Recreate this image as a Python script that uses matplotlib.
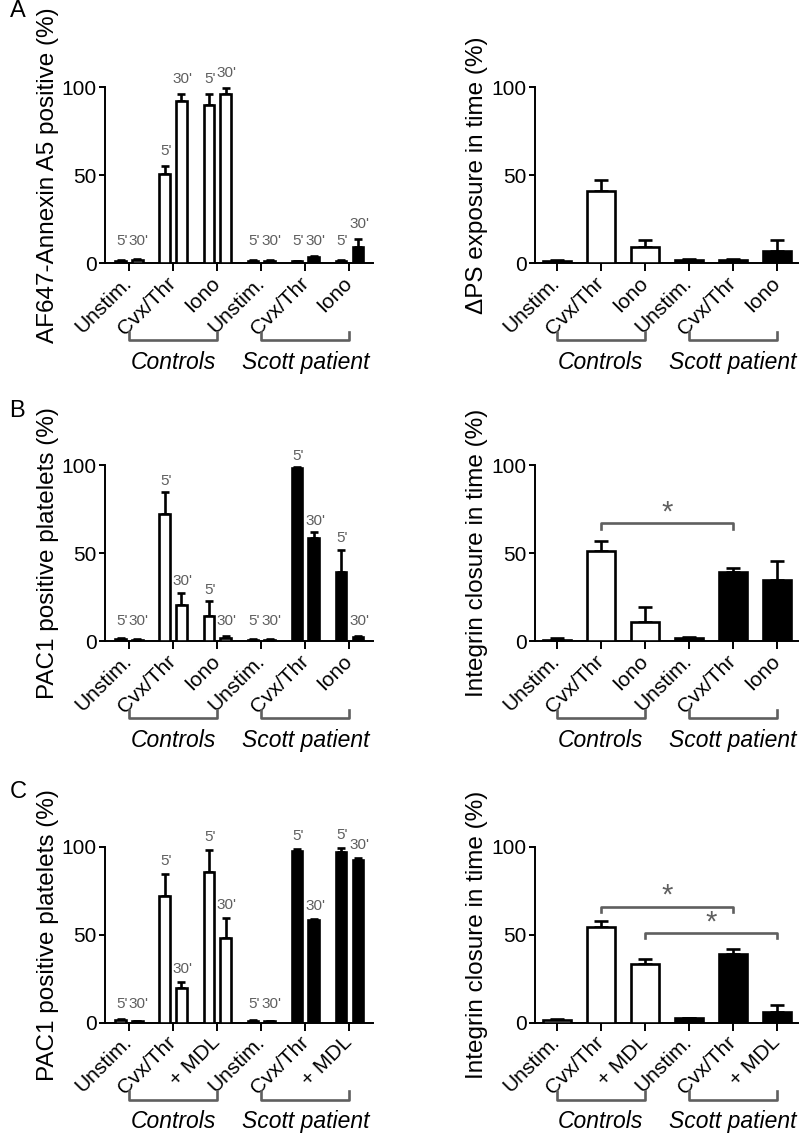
import numpy as np
import matplotlib
matplotlib.use('Agg')
import matplotlib.pyplot as plt
from matplotlib.transforms import blended_transform_factory

plt.rcParams['font.family'] = ['Liberation Sans', 'DejaVu Sans']

# categories
groups_ab = ['Unstim.', 'Cvx/Thr', 'Iono', 'Unstim.', 'Cvx/Thr', 'Iono']
groups_c = ['Unstim.', 'Cvx/Thr', '+ MDL', 'Unstim.', 'Cvx/Thr', '+ MDL']
cohorts = ['Controls', 'Scott patient']
fills = ['white', 'white', 'white', 'black', 'black', 'black']

# A: annexin A5 binding (5' and 30'), mean and upper SEM
a_left_5 = [1.5, 50.5, 90, 1.5, 1.2, 1.5]
a_left_5_err = [0.5, 4.7, 6.5, 0.5, 0.3, 0.5]
a_left_30 = [2, 92.5, 96.5, 1.5, 3.5, 9.4]
a_left_30_err = [0.5, 3.7, 3, 0.5, 0.8, 4.2]
a_right = [1.5, 41, 9.5, 2, 2, 7.2]
a_right_err = [0.5, 6.6, 3.8, 0.4, 0.4, 6.1]

# B: PAC1 binding
b_left_5 = [1.5, 72.4, 14.3, 1, 98.5, 39.4]
b_left_5_err = [0.5, 12.4, 8.6, 0.3, 0.5, 12.6]
b_left_30 = [1, 20.6, 2, 1, 58.5, 2.5]
b_left_30_err = [0.3, 7, 1, 0.3, 3.5, 0.5]
b_right = [1, 51.5, 10.8, 1.9, 39.2, 35.1]
b_right_err = [1, 5.7, 8.8, 0.7, 2.7, 10.7]
b_sig = [(1, 4, 67)]

# C: PAC1 binding with MDL
c_left_5 = [1.5, 71.8, 85.9, 1, 97.7, 96.8]
c_left_5_err = [0.5, 12.8, 12.4, 0.3, 0.8, 2.4]
c_left_30 = [0.8, 19.7, 47.9, 0.8, 58.3, 92.5]
c_left_30_err = [0.3, 3.2, 11.3, 0.3, 0.7, 1.1]
c_right = [1.5, 54.1, 33.5, 2.4, 39.1, 6]
c_right_err = [0.5, 3.8, 2.4, 0.5, 2.8, 4.3]
c_sig = [(1, 4, 66), (2, 5, 51)]

GREY = '#5f5f5f'
LW = 1.9


def style_axes(ax, labels, ylabel, xlim, label_x):
    ax.set_ylim(0, 100)
    ax.set_xlim(*xlim)
    ax.spines['top'].set_visible(False)
    ax.spines['right'].set_visible(False)
    for s in ['left', 'bottom']:
        ax.spines[s].set_linewidth(1.4)
    ax.set_yticks([0, 50, 100])
    ax.set_xticks(range(6))
    ax.set_xticklabels(labels, rotation=45, ha='right', va='center',
                       rotation_mode='anchor', fontsize=15)
    ax.tick_params(axis='x', length=6, width=1.4, pad=6)
    ax.tick_params(axis='y', length=4, width=1.4, labelsize=15, pad=2)
    ax.set_ylabel(ylabel, fontsize=17.5)
    ax.yaxis.set_label_coords(label_x, 0.5)
    tr = blended_transform_factory(ax.transData, ax.transAxes)
    for (a, b), name in zip([(0, 2), (3, 5)], cohorts):
        ax.plot([a, a, b, b], [-0.39, -0.4375, -0.4375, -0.39], transform=tr,
                clip_on=False, color=GREY, lw=LW)
        ax.text((a + b) / 2, -0.5625, name, transform=tr, ha='center',
                va='center', style='italic', fontsize=16.5)


def pair_bars(ax, v5, e5, v30, e30, gap, floor):
    x = np.arange(6)
    for off, v, e, lab in [(-0.19, v5, e5, "5'"), (0.19, v30, e30, "30'")]:
        ax.errorbar(x + off, v, yerr=[np.zeros(6), e], fmt='none', ecolor='black',
                    elinewidth=LW, capsize=3, capthick=LW, zorder=2)
        ax.bar(x + off, v, width=0.24, color=fills, edgecolor='black', lw=LW, zorder=3)
        for xi, vi, ei in zip(x + off, v, e):
            ax.text(xi + 0.03, max(vi + ei + gap, floor), lab, ha='center', va='center',
                    color=GREY, fontsize=11)


def single_bars(ax, v, e):
    x = np.arange(6)
    ax.errorbar(x, v, yerr=[np.zeros(6), e], fmt='none', ecolor='black',
                elinewidth=LW, capsize=5, capthick=LW, zorder=2)
    ax.bar(x, v, width=0.64, color=fills, edgecolor='black', lw=LW, zorder=3)


def sig(ax, brackets):
    for a, b, y in brackets:
        ax.plot([a, a, b, b], [y - 3, y, y, y - 3], color=GREY, lw=LW, clip_on=False)
        ax.text((a + b) / 2, y + 6, '*', ha='center', va='center', fontsize=21, color=GREY)


fig = plt.figure(figsize=(8, 11.35), dpi=100)

rows = [0.768, 0.435, 0.099]
h = 0.155
left_x = (0.131, 0.335)
right_x = (0.669, 0.329)

# A
ax = fig.add_axes([left_x[0], rows[0], left_x[1], h])
pair_bars(ax, a_left_5, a_left_5_err, a_left_30, a_left_30_err, 8.5, 12.5)
style_axes(ax, groups_ab, 'AF647-Annexin A5 positive (%)', (-0.55, 5.53), -0.17)

ax = fig.add_axes([right_x[0], rows[0], right_x[1], h])
single_bars(ax, a_right, a_right_err)
style_axes(ax, groups_ab, '\u0394PS exposure in time (%)', (-0.49, 5.48), -0.18)

# B
ax = fig.add_axes([left_x[0], rows[1], left_x[1], h])
pair_bars(ax, b_left_5, b_left_5_err, b_left_30, b_left_30_err, 6.5, 11.5)
style_axes(ax, groups_ab, 'PAC1 positive platelets (%)', (-0.55, 5.53), -0.17)

ax = fig.add_axes([right_x[0], rows[1], right_x[1], h])
single_bars(ax, b_right, b_right_err)
sig(ax, b_sig)
style_axes(ax, groups_ab, 'Integrin closure in time (%)', (-0.49, 5.48), -0.18)

# C
ax = fig.add_axes([left_x[0], rows[2], left_x[1], h])
pair_bars(ax, c_left_5, c_left_5_err, c_left_30, c_left_30_err, 7.5, 10.5)
style_axes(ax, groups_c, 'PAC1 positive platelets (%)', (-0.55, 5.53), -0.17)

ax = fig.add_axes([right_x[0], rows[2], right_x[1], h])
single_bars(ax, c_right, c_right_err)
sig(ax, c_sig)
style_axes(ax, groups_c, 'Integrin closure in time (%)', (-0.49, 5.48), -0.18)

for letter, y in zip(['A', 'B', 'C'], [11, 411, 792]):
    fig.text(0.012, 1 - y / 1135, letter, va='center', ha='left', fontsize=17)

fig.savefig('out.png', dpi=100)
